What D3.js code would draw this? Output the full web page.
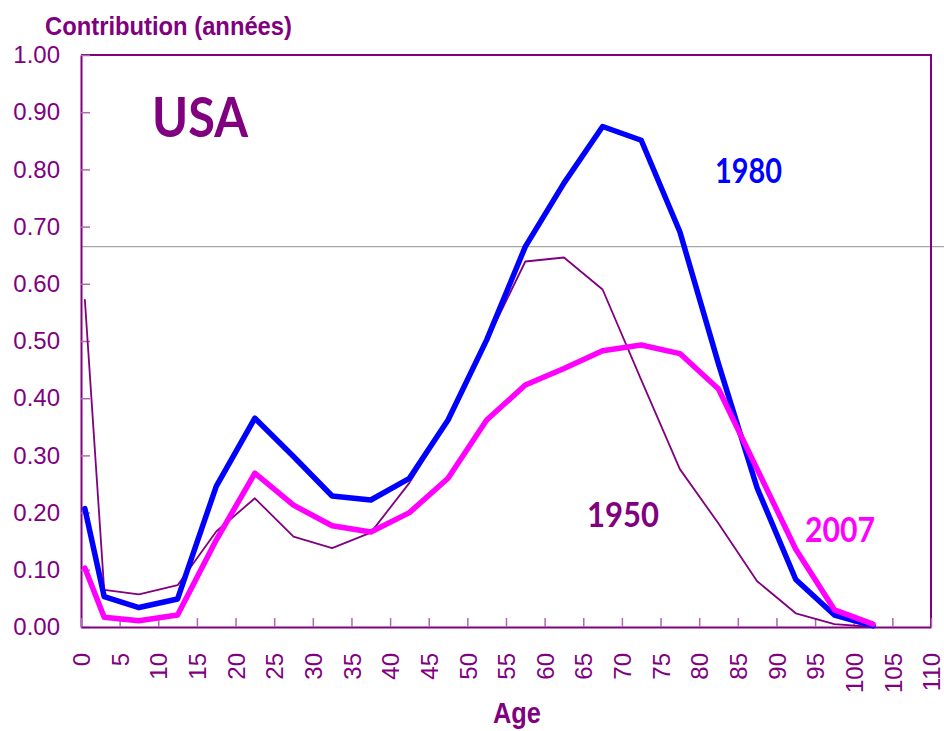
<!DOCTYPE html>
<html>
<head>
<meta charset="utf-8">
<script src="https://cdn.jsdelivr.net/npm/d3@7"></script>
<style>
  html, body { margin: 0; padding: 0; background: #fff; }
  svg { display: block; }
</style>
</head>
<body>
<svg id="chart" width="944" height="731"></svg>
<script>
// ---- Data ----
const ages = [0.5, 3, 7.5, 12.5, 17.5, 22.5, 27.5, 32.5, 37.5, 42.5, 47.5, 52.5,
              57.5, 62.5, 67.5, 72.5, 77.5, 82.5, 87.5, 92.5, 97.5, 102.5];
const v1950 = [0.572, 0.065, 0.057, 0.073, 0.167, 0.225, 0.158, 0.138, 0.165, 0.252, 0.360, 0.500,
               0.639, 0.646, 0.590, 0.432, 0.276, 0.181, 0.080, 0.024, 0.005, 0.000];
const v1980 = [0.207, 0.053, 0.034, 0.049, 0.246, 0.365, 0.298, 0.229, 0.222, 0.260, 0.362, 0.502,
               0.665, 0.776, 0.875, 0.851, 0.691, 0.460, 0.243, 0.083, 0.021, 0.002];
const v2007 = [0.103, 0.017, 0.011, 0.021, 0.152, 0.269, 0.213, 0.177, 0.166, 0.200, 0.260, 0.362,
               0.423, 0.452, 0.483, 0.493, 0.478, 0.416, 0.276, 0.136, 0.030, 0.005];
const refValue = 0.665;
const xTickValues = d3.range(0, 111, 5);
const yTickValues = d3.range(0, 1.0001, 0.1);
const seriesNames = ["1950", "1980", "2007"];

// ---- Layout ----
const svg = d3.select("#chart");
const L = 81, R = 931, T = 55, B = 627;
const purple = "#800080", tickCol = "#b066b0";
const x = d3.scaleLinear().domain([0, 110]).range([L, R]);
const y = d3.scaleLinear().domain([0, 1]).range([B, T]);

// reference gray line
svg.append("line")
  .attr("x1", x(0)).attr("x2", 944)
  .attr("y1", y(refValue)).attr("y2", y(refValue))
  .attr("stroke", "#a6a6a6").attr("stroke-width", 1.3);

// frame (top and right)
svg.append("path")
  .attr("d", `M${L},${T}H${R}V${B}`)
  .attr("fill", "none").attr("stroke", purple).attr("stroke-width", 2);

// Y axis
const yAxis = svg.append("g").attr("transform", `translate(${L},0)`)
  .call(d3.axisLeft(y).tickValues(yTickValues).tickFormat(d3.format(".2f")).tickSize(0).tickPadding(21));
yAxis.select(".domain").attr("stroke", purple).attr("stroke-width", 2);
yAxis.selectAll("text")
  .attr("fill", purple).style("font-family", "Arial, 'Liberation Sans', sans-serif")
  .style("font-size", "24px");
yAxis.selectAll(".tick").append("line")
  .attr("x1", 0).attr("x2", 9).attr("stroke", tickCol).attr("stroke-width", 1.5);

// X axis
const xAxis = svg.append("g").attr("transform", `translate(0,${B})`)
  .call(d3.axisBottom(x).tickValues(xTickValues).tickSize(0).tickFormat(d3.format("d")));
xAxis.select(".domain").attr("stroke", purple).attr("stroke-width", 2);
xAxis.selectAll(".tick").append("line")
  .attr("y1", 0).attr("y2", -9).attr("stroke", tickCol).attr("stroke-width", 1.5);
xAxis.selectAll("text")
  .attr("fill", purple).style("font-family", "Arial, 'Liberation Sans', sans-serif")
  .style("font-size", "24px")
  .attr("text-anchor", "end")
  .attr("transform", "rotate(-90)")
  .attr("x", -26).attr("y", 0).attr("dy", "0.36em");

// Lines
const line = d3.line().x((d, i) => x(ages[i])).y(d => y(d));
const seriesData = [
  { name: seriesNames[0], values: v1950, color: purple, width: 1.8 },
  { name: seriesNames[1], values: v1980, color: "#0000ff", width: 5.5 },
  { name: seriesNames[2], values: v2007, color: "#ff00ff", width: 5.5 }
];
svg.append("g").selectAll("path").data(seriesData).join("path")
  .attr("d", d => line(d.values))
  .attr("fill", "none")
  .attr("stroke", d => d.color)
  .attr("stroke-width", d => d.width)
  .attr("stroke-linejoin", "round")
  .attr("stroke-linecap", "round");

// Texts
const narrow = "'Liberation Sans Narrow', 'Arial Narrow', Arial, sans-serif";
svg.append("text").text("Contribution (années)")
  .attr("x", 45).attr("y", 35)
  .attr("textLength", 247).attr("lengthAdjust", "spacingAndGlyphs")
  .style("font-family", narrow).style("font-weight", "bold").style("font-size", "25px")
  .attr("fill", purple);

svg.append("text").text("Age")
  .attr("x", 493).attr("y", 723)
  .attr("textLength", 48).attr("lengthAdjust", "spacingAndGlyphs")
  .style("font-family", narrow).style("font-weight", "bold").style("font-size", "30px")
  .attr("fill", purple);

const calib = "Lato, 'Open Sans', sans-serif";
svg.append("text").text("USA")
  .attr("x", 152).attr("y", 137)
  .attr("textLength", 96).attr("lengthAdjust", "spacingAndGlyphs")
  .style("font-family", calib).style("font-weight", "bold").style("font-size", "55px")
  .attr("fill", purple);

const labels = [
  { t: seriesNames[1], x: 715, y: 183, w: 67, c: "#0000ff" },
  { t: seriesNames[0], x: 587, y: 527, w: 72, c: purple },
  { t: seriesNames[2], x: 805, y: 542, w: 70, c: "#ff00ff" }
];
svg.append("g").selectAll("text").data(labels).join("text")
  .text(d => d.t)
  .attr("x", d => d.x).attr("y", d => d.y)
  .attr("textLength", d => d.w).attr("lengthAdjust", "spacingAndGlyphs")
  .style("font-family", calib).style("font-weight", "bold").style("font-size", "34px")
  .attr("fill", d => d.c);
</script>
</body>
</html>
